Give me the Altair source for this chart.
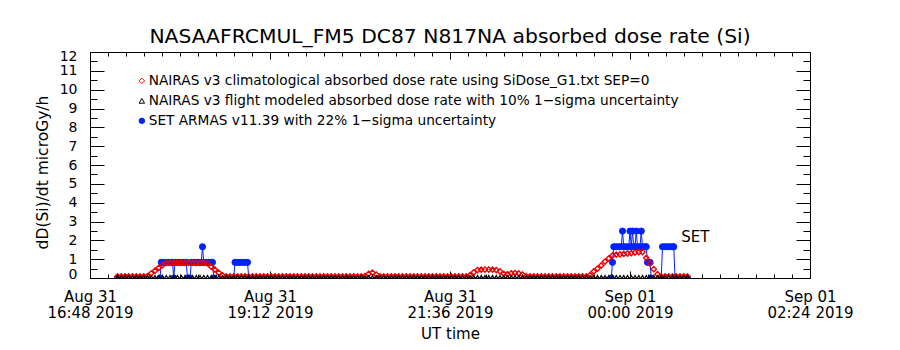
import altair as alt
import pandas as pd
from datetime import datetime, timedelta, timezone

FONT = "DejaVu Sans"
RED = "#ee0000"
BLUE = "#0022ff"
BLACK = "#000000"

title_text = "NASAAFRCMUL_FM5 DC87 N817NA absorbed dose rate (Si)"
y_title = "dD(Si)/dt microGy/h"
x_title = "UT time"
legend_labels = [
    "NAIRAS v3 climatological absorbed dose rate using SiDose_G1.txt SEP=0",
    "NAIRAS v3 flight modeled absorbed dose rate with 10% 1\u2212sigma uncertainty",
    "SET ARMAS v11.39 with 22% 1\u2212sigma uncertainty",
]
set_label = "SET"

# time origin (left edge of the plot) and axis layout in minutes
t_origin = datetime(2019, 8, 31, 16, 48, tzinfo=timezone.utc)
axis_span_min = 576.0      # 16:48 -> 02:24
major_step_min = 144.0
minor_step_min = 14.4
y_ticks = [0, 1, 2, 3, 4, 5, 6, 7, 8, 9, 10, 11, 12]

# NAIRAS climatological (red) and flight modeled (black): sampled every 3 min from 17:10
model_start_min = 22
model_step_min = 3
red_values = [
    0.08, 0.08, 0.08, 0.08, 0.08, 0.08, 0.08, 0.08, 0.10, 0.25,
    0.39, 0.54, 0.68, 0.80, 0.80, 0.81, 0.81, 0.81, 0.81, 0.81,
    0.81, 0.80, 0.80, 0.80, 0.78, 0.60, 0.44, 0.28, 0.14, 0.08,
    0.08, 0.08, 0.08, 0.08, 0.08, 0.08, 0.08, 0.08, 0.08, 0.08,
    0.08, 0.08, 0.08, 0.08, 0.08, 0.08, 0.08, 0.08, 0.08, 0.08,
    0.08, 0.08, 0.08, 0.08, 0.08, 0.08, 0.08, 0.08, 0.08, 0.08,
    0.08, 0.08, 0.08, 0.08, 0.08, 0.08, 0.10, 0.22, 0.28, 0.18,
    0.08, 0.08, 0.08, 0.08, 0.08, 0.08, 0.08, 0.08, 0.08, 0.08,
    0.08, 0.08, 0.08, 0.08, 0.08, 0.08, 0.08, 0.08, 0.08, 0.08,
    0.08, 0.08, 0.08, 0.08, 0.15, 0.30, 0.42, 0.44, 0.45, 0.45,
    0.44, 0.42, 0.35, 0.22, 0.20, 0.25, 0.26, 0.24, 0.18, 0.10,
    0.08, 0.08, 0.08, 0.08, 0.08, 0.08, 0.08, 0.08, 0.08, 0.08,
    0.08, 0.08, 0.08, 0.08, 0.08, 0.08, 0.15, 0.35, 0.50, 0.67,
    0.87, 1.04, 1.20, 1.24, 1.26, 1.28, 1.30, 1.32, 1.35, 1.38,
    1.38, 1.07, 0.77, 0.47, 0.20, 0.08, 0.08, 0.08, 0.08, 0.08,
    0.08, 0.08, 0.08,
]
black_values = [
    0.03, 0.03, 0.03, 0.03, 0.03, 0.03, 0.03, 0.03, 0.03, 0.03,
    0.03, 0.03, 0.03, 0.03, 0.03, 0.03, 0.03, 0.03, 0.03, 0.03,
    0.03, 0.03, 0.03, 0.03, 0.03, 0.03, 0.03, 0.03, 0.03, 0.03,
    0.03, 0.03, 0.03, 0.03, 0.03, 0.03, 0.03, 0.03, 0.03, 0.03,
    0.03, 0.03, 0.03, 0.03, 0.03, 0.03, 0.03, 0.03, 0.03, 0.03,
    0.03, 0.03, 0.03, 0.03, 0.03, 0.03, 0.03, 0.03, 0.03, 0.03,
    0.03, 0.03, 0.03, 0.03, 0.03, 0.03, 0.03, 0.03, 0.03, 0.03,
    0.03, 0.03, 0.03, 0.03, 0.03, 0.03, 0.03, 0.03, 0.03, 0.03,
    0.03, 0.03, 0.03, 0.03, 0.03, 0.03, 0.03, 0.03, 0.03, 0.03,
    0.03, 0.03, 0.03, 0.03, 0.03, 0.03, 0.03, 0.03, 0.03, 0.03,
    0.03, 0.03, 0.03, 0.03, 0.03, 0.03, 0.03, 0.03, 0.03, 0.03,
    0.03, 0.03, 0.03, 0.03, 0.03, 0.03, 0.03, 0.03, 0.03, 0.03,
    0.03, 0.03, 0.03, 0.03, 0.03, 0.03, 0.03, 0.03, 0.03, 0.03,
    0.03, 0.03, 0.03, 0.03, 0.03, 0.03, 0.03, 0.03, 0.03, 0.03,
    0.03, 0.03, 0.03, 0.03, 0.03, 0.03, 0.03, 0.03, 0.03, 0.03,
    0.03, 0.03, 0.03,
]

# SET ARMAS (blue): minutes after 16:48 and dose rate
blue_minutes = [
    22, 56, 57, 59, 61, 63, 65, 66, 67, 68,
    70, 72, 74, 76, 77, 78, 80, 81, 83, 85,
    87, 89, 90, 91, 93, 95, 97, 98, 99, 115,
    116, 118, 120, 122, 124, 126, 127, 417, 418, 419,
    421, 423, 425, 426, 427, 429, 431, 432, 433, 434,
    435, 436, 437, 438, 440, 441, 442, 444, 445, 446,
    448, 449, 457, 458, 460, 462, 464, 466, 467, 468,
    478,
]
blue_values = [
    0.0, 0.0, 0.83, 0.83, 0.83, 0.83, 0.83, 0.83, 0.0, 0.83,
    0.83, 0.83, 0.83, 0.83, 0.83, 0.0, 0.0, 0.83, 0.83, 0.83,
    0.83, 0.83, 1.66, 0.83, 0.83, 0.83, 0.83, 0.83, 0.0, 0.0,
    0.83, 0.83, 0.83, 0.83, 0.83, 0.83, 0.0, 0.0, 0.83, 1.66,
    1.66, 1.66, 1.66, 2.49, 1.66, 1.66, 1.66, 2.49, 1.66, 2.49,
    1.66, 1.66, 2.49, 1.66, 1.66, 2.49, 1.66, 1.66, 1.66, 0.83,
    0.83, 0.0, 0.0, 1.66, 1.66, 1.66, 1.66, 1.66, 1.66, 0.0,
    0.0,
]
set_label_minute = 473
set_label_value = 2.2

W, H = 720, 226


def iso(minutes):
    return (t_origin + timedelta(minutes=minutes)).strftime("%Y-%m-%dT%H:%M:%SZ")


def dt(minutes):
    t = t_origin + timedelta(minutes=minutes)
    return alt.DateTime(year=t.year, month=t.month, date=t.day, hours=t.hour,
                        minutes=t.minute, seconds=t.second, utc=True)


model_times = [iso(model_start_min + model_step_min * i) for i in range(len(red_values))]
red_df = pd.DataFrame({"t": model_times, "v": red_values, "series": legend_labels[0]})
black_df = pd.DataFrame({"t": model_times, "v": black_values, "series": legend_labels[1]})
blue_df = pd.DataFrame({"t": [iso(m) for m in blue_minutes], "v": blue_values,
                        "series": legend_labels[2]})
set_df = pd.DataFrame({"t": [iso(set_label_minute)], "v": [set_label_value], "label": [set_label]})

n_major = int(round(axis_span_min / major_step_min))
n_minor = int(round(axis_span_min / minor_step_min))
major_vals = [dt(major_step_min * i) for i in range(n_major + 1)]
all_x_vals = [dt(minor_step_min * i) for i in range(n_minor + 1)]
y_all_vals = [i * 0.5 for i in range(2 * y_ticks[-1] + 1)]

t0_ms = int(t_origin.timestamp() * 1000)
major_ms = int(major_step_min * 60000)
x_major_test = f"(datum.value - {t0_ms}) % {major_ms} === 0"
y_major_test = "datum.value % 1 === 0"

x_scale = alt.Scale(type="utc", domain=[dt(0), dt(axis_span_min)], nice=False)
y_scale = alt.Scale(domain=[y_ticks[0], y_ticks[-1]], nice=False, zero=False)

x_label_axis = alt.Axis(
    orient="bottom", values=major_vals, ticks=False, domain=False, grid=False,
    labelExpr="[utcFormat(datum.value, '%b %d'), utcFormat(datum.value, '%H:%M %Y')]",
    labelFont=FONT, labelFontSize=15, labelColor="black", labelPadding=11,
    labelLineHeight=16.5, labelOverlap=False, labelFlush=False, labelBound=False,
    title=x_title, titleFont=FONT, titleFontSize=15, titleFontWeight="normal",
    titleColor="black", titlePadding=6,
)
y_label_axis = alt.Axis(
    orient="left", values=y_ticks, ticks=False, domain=False, grid=False,
    labelFont=FONT, labelFontSize=14, labelColor="black", labelPadding=13,
    labelFlush=True, labelFlushOffset=3, labelOverlap=False,
    title=y_title, titleFont=FONT, titleFontSize=15.5, titleFontWeight="normal",
    titleColor="black", titlePadding=9, titleY=120,
)


def tick_axis_x(orient):
    return alt.Axis(
        orient=orient, offset=-H, values=all_x_vals, labels=False, domain=False,
        grid=False, ticks=True, tickColor="black", tickWidth=1,
        tickSize={"condition": {"test": x_major_test, "value": 7}, "value": 4},
        title=None,
    )


def tick_axis_y(orient):
    return alt.Axis(
        orient=orient, offset=-W, values=y_all_vals, labels=False, domain=False,
        grid=False, ticks=True, tickColor="black", tickWidth=1,
        tickSize={"condition": {"test": y_major_test, "value": 14}, "value": 7},
        title=None,
    )


shape_scale = alt.Scale(domain=legend_labels, range=["diamond", "triangle-up", "circle"])
stroke_scale = alt.Scale(domain=legend_labels, range=[RED, BLACK, BLUE])
fill_scale = alt.Scale(domain=legend_labels, range=["transparent", "transparent", BLUE])

legend = alt.Legend(
    orient="none", legendX=45, legendY=22, title=None, labelFont=FONT,
    labelFontSize=13.7, labelColor="black", labelLimit=0, symbolSize=30,
    symbolStrokeWidth=1, rowPadding=5, labelOffset=0, padding=0,
)


def series_enc(legend_obj):
    return dict(
        shape=alt.Shape("series:N", scale=shape_scale, legend=legend_obj),
        stroke=alt.Stroke("series:N", scale=stroke_scale, legend=legend_obj),
        fill=alt.Fill("series:N", scale=fill_scale, legend=legend_obj),
    )


blue_line = alt.Chart(blue_df).mark_line(color=BLUE, strokeWidth=1, clip=True).encode(
    x=alt.X("t:T", scale=x_scale, axis=x_label_axis),
    y=alt.Y("v:Q", scale=y_scale, axis=y_label_axis),
)
blue_pts = alt.Chart(blue_df).mark_point(filled=True, size=38, strokeWidth=1, opacity=1, clip=True).encode(
    x=alt.X("t:T", scale=x_scale, axis=tick_axis_x("top")),
    y=alt.Y("v:Q", scale=y_scale, axis=tick_axis_y("right")),
    **series_enc(legend),
)
red_pts = alt.Chart(red_df).mark_point(filled=True, size=28, strokeWidth=1.4, opacity=1, clip=True).encode(
    x=alt.X("t:T", scale=x_scale, axis=tick_axis_x("bottom")),
    y=alt.Y("v:Q", scale=y_scale, axis=tick_axis_y("left")),
    **series_enc(legend),
)
black_pts = alt.Chart(black_df).mark_point(filled=True, size=20, strokeWidth=1.2, opacity=1, clip=True).encode(
    x=alt.X("t:T", scale=x_scale, axis=None),
    y=alt.Y("v:Q", scale=y_scale, axis=None),
    **series_enc(legend),
)
set_text = alt.Chart(set_df).mark_text(align="left", baseline="middle", font=FONT, fontSize=15,
                                       color="black").encode(
    x=alt.X("t:T", scale=x_scale, axis=None),
    y=alt.Y("v:Q", scale=y_scale, axis=None),
    text="label:N",
)

chart = alt.layer(blue_line, blue_pts, red_pts, black_pts, set_text).resolve_axis(
    x="independent", y="independent"
).properties(
    width=W, height=H,
    title=alt.TitleParams(text=title_text, font=FONT, fontSize=20.3, fontWeight="normal",
                          color="black", anchor="middle", offset=2),
    autosize=alt.AutoSizeParams(type="none"),
    padding={"left": 90, "top": 52, "right": 90, "bottom": 72},
    background="white",
).configure_view(stroke="black", strokeWidth=1)

chart.save("out.html", embed_options={"renderer": "svg", "actions": False})
